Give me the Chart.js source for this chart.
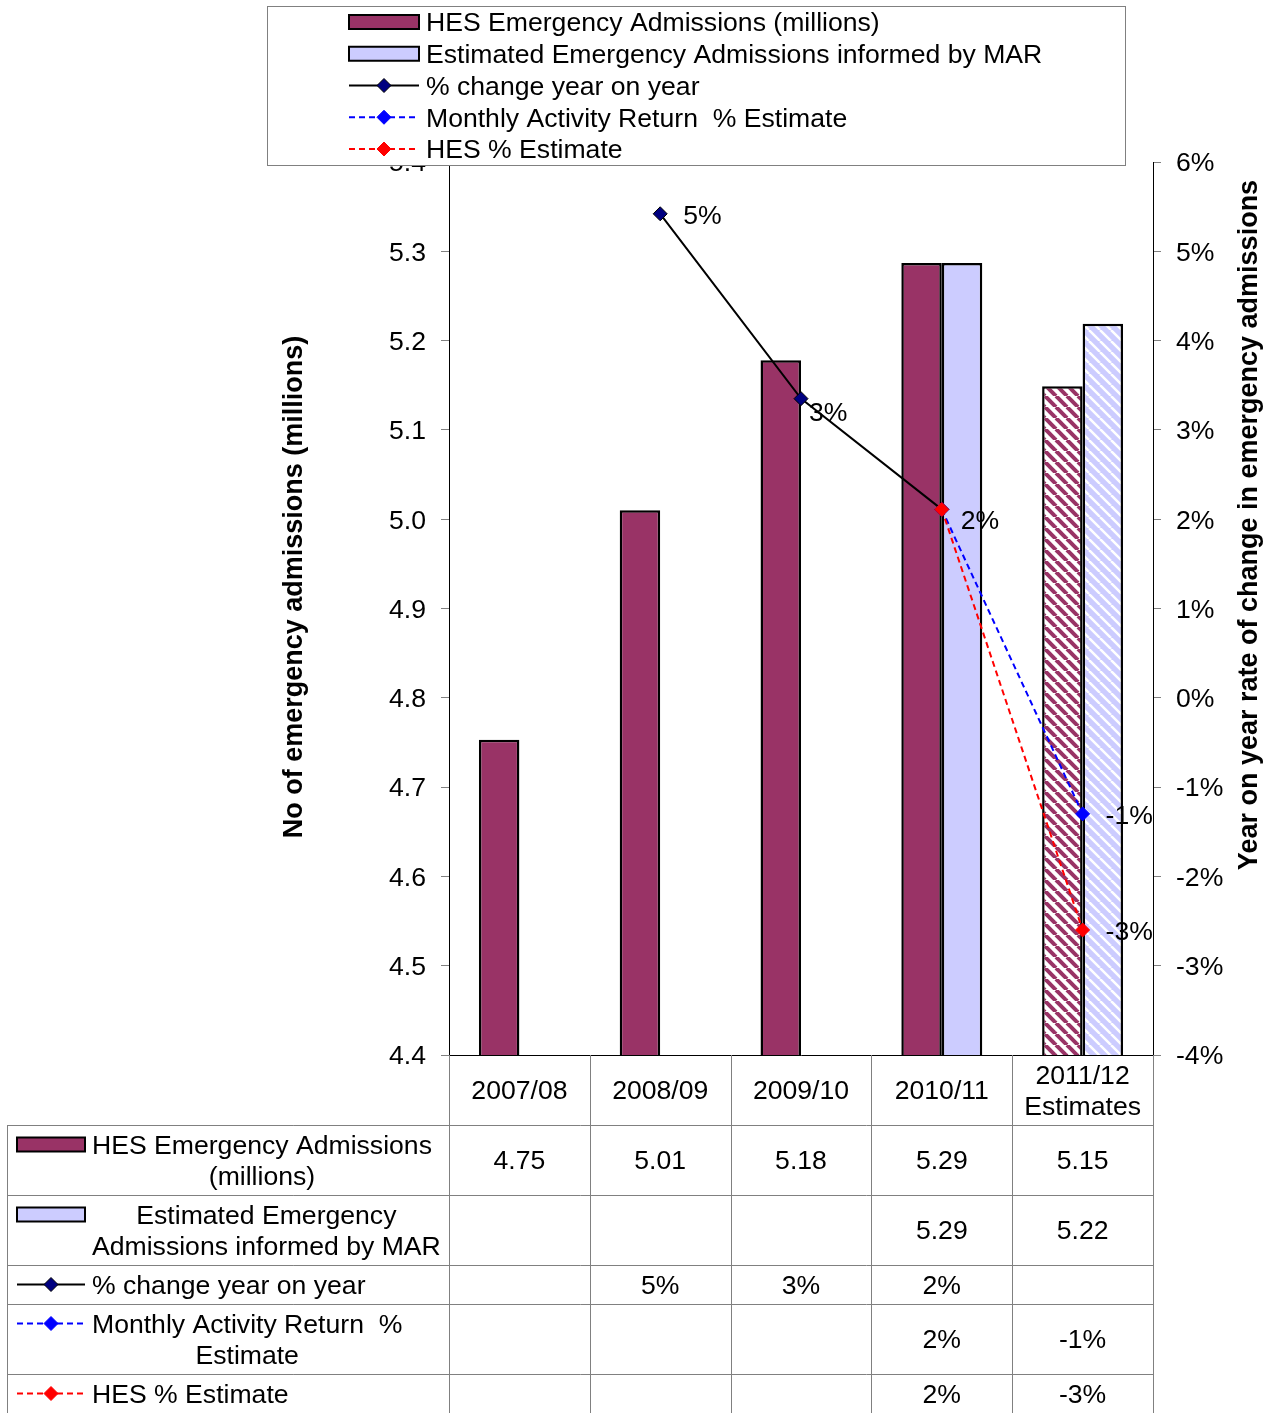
<!DOCTYPE html>
<html lang="en">
<head>
<meta charset="UTF-8" />
<title>Emergency Admissions</title>
<script src="https://cdn.jsdelivr.net/npm/chart.js"></script>
<style>
  html, body { margin: 0; padding: 0; background: #fff; }
</style>
</head>
<body>
<canvas id="admChart" width="1276" height="1413"></canvas>
<script>
const categories = ['2007/08', '2008/09', '2009/10', '2010/11', ['2011/12', 'Estimates']];
const hesAdmissions = [4.753, 5.010, 5.178, 5.287, 5.149];
const marAdmissions = [null, null, null, 5.287, 5.219];
const pctChange = [null, 5.42, 3.35, 2.11, null];
const marPctEstimate = [null, null, null, 2.11, -1.30];
const hesPctEstimate = [null, null, null, 2.11, -2.60];
const leftTicks = [4.4, 4.5, 4.6, 4.7, 4.8, 4.9, 5.0, 5.1, 5.2, 5.3, 5.4];
const rightTicks = [-4, -3, -2, -1, 0, 1, 2, 3, 4, 5, 6];
const seriesNames = ['HES Emergency Admissions (millions)', 'Estimated Emergency Admissions informed by MAR',
  '% change year on year', 'Monthly Activity Return  % Estimate', 'HES % Estimate'];
const tableLabels = [['HES Emergency Admissions', '(millions)'], ['Estimated Emergency', 'Admissions informed by MAR'],
  ['% change year on year'], ['Monthly Activity Return  %', 'Estimate'], ['HES % Estimate']];
const leftTitle = 'No of emergency admissions (millions)';
const rightTitle = 'Year on year rate of change in emergency admissions';

const FONT = '"Liberation Sans", Arial, sans-serif';
const FS = 26.6;
const TY = 2; // text sits a little lower than canvas "middle"
const MAROON = '#993366', LAVENDER = '#CCCCFF';
const lineColors = ['#000000', '#0000FF', '#FF0000'];
const pointColors = ['#000080', '#0000FF', '#FF0000'];

function stripes(bg, fg, w) {
  const s = 11, c = document.createElement('canvas');
  c.width = c.height = s;
  const g = c.getContext('2d');
  g.fillStyle = bg; g.fillRect(0, 0, s, s);
  g.strokeStyle = fg; g.lineWidth = w;
  for (const o of [-s, 0, s]) { g.beginPath(); g.moveTo(o, 0); g.lineTo(o + s, s); g.stroke(); }
  return g.createPattern(c, 'repeat');
}
const isEstimate = i => Array.isArray(categories[i]);
const hesFill = categories.map((c, i) => isEstimate(i) ? stripes('#fff', MAROON, 4) : MAROON);
const marFill = categories.map((c, i) => isEstimate(i) ? stripes(LAVENDER, '#fff', 2.5) : LAVENDER);

function diamond(ctx, x, y, r, fill, stroke) {
  ctx.beginPath();
  ctx.moveTo(x, y - r); ctx.lineTo(x + r, y); ctx.lineTo(x, y + r); ctx.lineTo(x - r, y); ctx.closePath();
  ctx.fillStyle = fill; ctx.fill();
  ctx.lineWidth = 1; ctx.strokeStyle = stroke; ctx.stroke();
}

// legend key, used in the legend box and in the data table
function drawKey(ctx, k, x0, x1, y) {
  ctx.save();
  if (k < 2) {
    ctx.fillStyle = k === 0 ? MAROON : LAVENDER;
    ctx.fillRect(x0, y - 7, x1 - x0, 14);
    ctx.lineWidth = 2; ctx.strokeStyle = '#000';
    ctx.strokeRect(x0, y - 7, x1 - x0, 14);
  } else {
    const j = k - 2;
    ctx.strokeStyle = lineColors[j]; ctx.lineWidth = 2;
    ctx.setLineDash(j === 0 ? [] : [6, 4]);
    ctx.beginPath(); ctx.moveTo(x0, y); ctx.lineTo(x1, y); ctx.stroke();
    ctx.setLineDash([]);
    diamond(ctx, (x0 + x1) / 2, y, 7, pointColors[j], j === 0 ? '#000' : pointColors[j]);
  }
  ctx.restore();
}

const extras = {
  id: 'extras',
  afterDatasetsDraw(chart) {
    const ctx = chart.ctx, done = new Set();
    ctx.save();
    ctx.font = FS + 'px ' + FONT; ctx.fillStyle = '#000';
    ctx.textAlign = 'left'; ctx.textBaseline = 'middle';
    [2, 3, 4].forEach(d => {
      const meta = chart.getDatasetMeta(d);
      chart.data.datasets[d].data.forEach((v, i) => {
        if (v === null) return;
        const pt = meta.data[i];
        const key = Math.round(pt.x) + ':' + Math.round(pt.y);
        if (done.has(key)) return;
        done.add(key);
        const off = i === 2 ? [8, 13] : i === 3 ? [19, 10] : [23, 1];
        ctx.fillText(Math.round(v) + '%', pt.x + off[0], pt.y + off[1] + TY);
      });
    });
    ctx.restore();
  },
  afterDraw(chart) {
    const ctx = chart.ctx, area = chart.chartArea, xs = chart.scales.x;
    ctx.save();

    // axis titles
    ctx.font = 'bold 27px ' + FONT; ctx.fillStyle = '#000';
    ctx.textAlign = 'center'; ctx.textBaseline = 'middle';
    [[leftTitle, 295, 587], [rightTitle, 1250, 525]].forEach(([t, x, y]) => {
      ctx.save(); ctx.translate(x, y); ctx.rotate(-Math.PI / 2); ctx.fillText(t, 0, 0); ctx.restore();
    });

    // data table
    const lineH = 31, pad = 8, tableLeft = 7.5;
    const colW = (area.right - area.left) / categories.length;
    const rowH = n => n * lineH + pad;
    const headTop = area.bottom, headBot = headTop + rowH(2);
    const rowData = [
      hesAdmissions.map(v => v === null ? '' : v.toFixed(2)),
      marAdmissions.map(v => v === null ? '' : v.toFixed(2)),
      pctChange.map(v => v === null ? '' : Math.round(v) + '%'),
      marPctEstimate.map(v => v === null ? '' : Math.round(v) + '%'),
      hesPctEstimate.map(v => v === null ? '' : Math.round(v) + '%')
    ];
    const tops = [headBot];
    tableLabels.forEach(l => tops.push(tops[tops.length - 1] + rowH(l.length)));
    const bottom = tops[tops.length - 1];

    ctx.strokeStyle = '#808080'; ctx.lineWidth = 1;
    for (let k = 0; k <= categories.length; k++) {
      const x = Math.round(area.left + k * colW) + 0.5;
      ctx.beginPath(); ctx.moveTo(x, headTop); ctx.lineTo(x, bottom); ctx.stroke();
    }
    ctx.beginPath(); ctx.moveTo(tableLeft, headBot); ctx.lineTo(tableLeft, bottom); ctx.stroke();
    tops.forEach(y => {
      ctx.beginPath(); ctx.moveTo(tableLeft, Math.round(y) + 0.5); ctx.lineTo(area.right, Math.round(y) + 0.5); ctx.stroke();
    });

    ctx.font = FS + 'px ' + FONT; ctx.fillStyle = '#000';
    categories.forEach((c, i) => {
      const lines = Array.isArray(c) ? c : [c];
      const cx = xs.getPixelForValue(i), cy = (headTop + headBot) / 2 + TY;
      lines.forEach((t, j) => ctx.fillText(t, cx, cy + (j - (lines.length - 1) / 2) * lineH));
    });
    tableLabels.forEach((lines, r) => {
      const top = tops[r], bot = tops[r + 1], cy = (top + bot) / 2;
      const firstY = cy - (lines.length - 1) / 2 * lineH;
      drawKey(ctx, r, 17, 85, firstY);
      ctx.font = FS + 'px ' + FONT; ctx.fillStyle = '#000'; ctx.textAlign = 'center';
      const maxW = Math.max(...lines.map(t => ctx.measureText(t).width));
      lines.forEach((t, j) => ctx.fillText(t, 92 + maxW / 2, firstY + j * lineH + TY));
      rowData[r].forEach((t, i) => ctx.fillText(t, xs.getPixelForValue(i), cy + TY));
    });

    // legend box
    ctx.fillStyle = '#fff'; ctx.fillRect(267, 6, 858, 159);
    ctx.strokeStyle = '#808080'; ctx.lineWidth = 1; ctx.strokeRect(267.5, 6.5, 858, 159);
    ctx.textAlign = 'left';
    seriesNames.forEach((n, k) => {
      const y = 22 + k * 31.75;
      drawKey(ctx, k, 349, 419, y);
      ctx.fillStyle = '#000'; ctx.font = FS + 'px ' + FONT;
      ctx.fillText(n, 426, y + TY);
    });
    ctx.restore();
  }
};

Chart.defaults.font.family = FONT;
Chart.defaults.font.size = FS;
Chart.defaults.color = '#000';

const lineSet = (j, label, data, order) => ({
  type: 'line', label, data, yAxisID: 'y1', order,
  borderColor: lineColors[j], borderWidth: 2, borderDash: j === 0 ? [] : [6, 4],
  pointStyle: 'rectRot', pointRadius: 7, pointHoverRadius: 7,
  pointBackgroundColor: pointColors[j], pointBorderColor: j === 0 ? '#000' : pointColors[j], pointBorderWidth: 1,
  tension: 0, fill: false, spanGaps: false
});

const barSet = (label, data, fill) => ({
  label, data, backgroundColor: fill, borderColor: '#000', borderWidth: 2.5, borderSkipped: false,
  inflateAmount: 0, yAxisID: 'y', order: 10, barPercentage: 1, categoryPercentage: 0.575
});

new Chart(document.getElementById('admChart'), {
  type: 'bar',
  data: {
    labels: categories,
    datasets: [
      barSet(seriesNames[0], hesAdmissions, hesFill),
      barSet(seriesNames[1], marAdmissions, marFill),
      lineSet(0, seriesNames[2], pctChange, 3),
      lineSet(1, seriesNames[3], marPctEstimate, 2),
      lineSet(2, seriesNames[4], hesPctEstimate, 1)
    ]
  },
  options: {
    responsive: false,
    animation: false,
    layout: { padding: { top: 162, bottom: 358, left: 0, right: 0 } },
    plugins: { legend: { display: false }, tooltip: { enabled: false } },
    scales: {
      x: {
        offset: true,
        ticks: { display: false },
        grid: { drawOnChartArea: false, drawTicks: false },
        border: { color: '#000', width: 1 },
        afterFit: s => { s.height = 0; }
      },
      y: {
        position: 'left',
        min: leftTicks[0], max: leftTicks[leftTicks.length - 1],
        afterBuildTicks: s => { s.ticks = leftTicks.map(v => ({ value: v })); },
        ticks: { padding: 15, labelOffset: TY, callback: v => v.toFixed(1) },
        grid: { drawOnChartArea: false, tickLength: 8, color: '#808080' },
        border: { color: '#000', width: 1 },
        afterFit: s => { s.width = 449; }
      },
      y1: {
        position: 'right',
        min: rightTicks[0], max: rightTicks[rightTicks.length - 1],
        afterBuildTicks: s => { s.ticks = rightTicks.map(v => ({ value: v })); },
        ticks: { padding: 15, labelOffset: TY, callback: v => v + '%' },
        grid: { drawOnChartArea: false, tickLength: 8, color: '#808080' },
        border: { color: '#000', width: 1 },
        afterFit: s => { s.width = 123; }
      }
    }
  },
  plugins: [extras]
});
</script>
</body>
</html>
